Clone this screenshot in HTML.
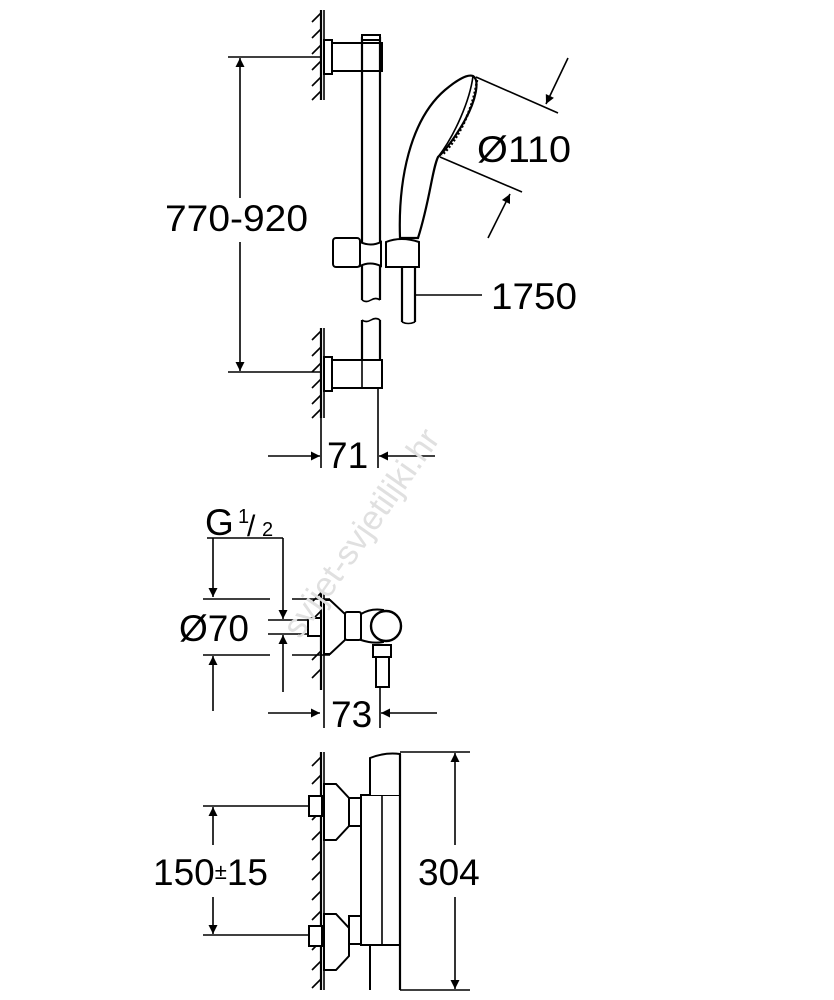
<!DOCTYPE html>
<html><head><meta charset="utf-8"><style>
html,body{margin:0;padding:0;background:#fff}
svg{display:block}
text{font-family:"Liberation Sans",Arial,sans-serif;fill:#000}
</style></head><body>
<svg width="834" height="1000" viewBox="0 0 834 1000" xmlns="http://www.w3.org/2000/svg">
<defs>
<marker id="a" viewBox="0 0 10 10" refX="10" refY="5" markerWidth="18" markerHeight="9" markerUnits="userSpaceOnUse" orient="auto"><path d="M0,0 L10,5 L0,10 z" fill="#000"/></marker>
</defs>
<g stroke="#000" stroke-width="1.6" fill="none">
<!-- TOP wall 1 -->
<line x1="321" y1="10" x2="321" y2="100" stroke-width="2.2"/>
<path d="M312,22 l9,-9 M312,38 l9,-9 M312,54 l9,-9 M312,70 l9,-9 M312,86 l9,-9 M312,100 l9,-9"/>
<line x1="324" y1="10" x2="324" y2="100"/>
<rect x="324" y="40" width="8" height="34" fill="#fff" stroke-width="2"/>
<rect x="332" y="43" width="50" height="28" fill="#fff" stroke-width="2"/>
<!-- bar -->
<path d="M362,37 L362,300 M380,37 L380,300" stroke-width="2.2"/>
<rect x="362" y="35" width="18" height="5" fill="#fff" stroke-width="2"/>
<path d="M362,300 q4,3 9,0 q5,-3 9,0" />
<path d="M362,320 q4,3 9,0 q5,-3 9,0" />
<path d="M362,320 L362,372 M380,320 L380,372" stroke-width="2.2"/>
<!-- wall 2 -->
<line x1="321" y1="328" x2="321" y2="418" stroke-width="2.2"/>
<path d="M312,340 l9,-9 M312,356 l9,-9 M312,372 l9,-9 M312,388 l9,-9 M312,404 l9,-9 M312,418 l9,-9"/>
<line x1="324" y1="328" x2="324" y2="418"/>
<rect x="324" y="357" width="8" height="34" fill="#fff" stroke-width="2"/>
<rect x="332" y="360" width="50" height="28" fill="#fff" stroke-width="2"/>
<line x1="362" y1="360" x2="362" y2="388"/>
<!-- slider -->
<rect x="333" y="238" width="27" height="29" rx="3" fill="#fff" stroke-width="2"/>
<path d="M360,242 q11,5 21,0 L381,266 q-11,-5 -21,0 z" fill="#fff" stroke-width="2"/>
<path d="M386,242 q15,-6 33,0 L419,267 L386,267 z" fill="#fff" stroke-width="2"/>
<!-- hose -->
<path d="M402,267 L402,322 M415,267 L415,322" stroke-width="2.2"/>
<path d="M402,322 q6,3 13,0"/>
<!-- handshower -->
<path d="M400,238 C398,180 410,120 445,90 C458,79 468,74 473,76 C480,80 476,100 465,120 C455,138 444,152 438,157 C432,170 430,200 418,238 Z" fill="#fff" stroke-width="2.2"/>
<path d="M473,76 C470,100 455,135 438,157" />
<path d="M477,80 C474,105 460,138 442,155" stroke-dasharray="2,2" stroke-width="2.5"/>
<!-- Ø110 dims -->
<line x1="476" y1="77" x2="558" y2="113"/>
<line x1="440" y1="157" x2="522" y2="192"/>
<line x1="568" y1="58" x2="546" y2="104" marker-end="url(#a)"/>
<line x1="488" y1="238" x2="510" y2="194" marker-end="url(#a)"/>
<!-- 1750 leader -->
<line x1="416" y1="295" x2="482" y2="295"/>
<!-- 770-920 -->
<line x1="228" y1="57" x2="321" y2="57"/>
<line x1="228" y1="372" x2="321" y2="372"/>
<line x1="240" y1="198" x2="240" y2="58" marker-end="url(#a)"/>
<line x1="240" y1="242" x2="240" y2="371" marker-end="url(#a)"/>
<!-- 71 -->
<line x1="321" y1="418" x2="321" y2="468"/>
<line x1="378" y1="388" x2="378" y2="468"/>
<line x1="268" y1="456" x2="320" y2="456" marker-end="url(#a)"/>
<line x1="435" y1="456" x2="379" y2="456" marker-end="url(#a)"/>

<!-- MIDDLE -->
<line x1="207" y1="538" x2="283" y2="538"/>
<line x1="213" y1="538" x2="213" y2="597" marker-end="url(#a)"/>
<line x1="283" y1="538" x2="283" y2="619" marker-end="url(#a)"/>
<line x1="203" y1="599" x2="270" y2="599"/><line x1="292" y1="599" x2="330" y2="599"/>
<line x1="203" y1="655" x2="270" y2="655"/><line x1="292" y1="655" x2="330" y2="655"/>
<line x1="268" y1="620" x2="310" y2="620"/>
<line x1="268" y1="634" x2="310" y2="634"/>
<line x1="213" y1="711" x2="213" y2="656" marker-end="url(#a)"/>
<line x1="283" y1="692" x2="283" y2="635" marker-end="url(#a)"/>
<line x1="321" y1="592" x2="321" y2="690" stroke-width="2.2"/>
<line x1="324" y1="592" x2="324" y2="728"/>
<path d="M312,602 l9,-9 M312,620 l9,-9 M312,660 l9,-9 M312,678 l9,-9"/>
<rect x="308" y="618" width="13" height="18" fill="#fff" stroke-width="2"/>
<path d="M324,600 L330,600 L345,614 L345,640 L330,654 L324,654 z" fill="#fff" stroke-width="2"/>
<rect x="345" y="612" width="16" height="28" rx="2" fill="#fff" stroke-width="2"/>
<path d="M361,614 q10,-6 22,-4 L383,642 q-10,2 -22,-2 z" fill="#fff" stroke-width="2"/>
<circle cx="386" cy="626" r="15" fill="#fff" stroke-width="2.4"/>
<rect x="373" y="645" width="18" height="12" fill="#fff" stroke-width="2"/>
<rect x="376" y="657" width="13" height="30" fill="#fff" stroke-width="2"/>
<line x1="380" y1="687" x2="380" y2="728"/>
<line x1="268" y1="713" x2="320" y2="713" marker-end="url(#a)"/>
<line x1="437" y1="713" x2="381" y2="713" marker-end="url(#a)"/>

<!-- BOTTOM -->
<line x1="321" y1="752" x2="321" y2="990" stroke-width="2.2"/>
<line x1="324" y1="752" x2="324" y2="990"/>
<path d="M312,766 l9,-9 M312,784 l9,-9 M312,820 l9,-9 M312,840 l9,-9 M312,860 l9,-9 M312,880 l9,-9 M312,900 l9,-9 M312,920 l9,-9 M312,950 l9,-9 M312,970 l9,-9 M312,988 l9,-9"/>
<rect x="309" y="796" width="13" height="20" fill="#fff" stroke-width="2"/>
<rect x="309" y="926" width="13" height="20" fill="#fff" stroke-width="2"/>
<path d="M324,784 L336,784 L349,798 L349,826 L336,840 L324,840 z" fill="#fff" stroke-width="2"/>
<path d="M324,914 L336,914 L349,928 L349,956 L336,970 L324,970 z" fill="#fff" stroke-width="2"/>
<rect x="349" y="798" width="12" height="28" fill="#fff" stroke-width="2"/>
<rect x="349" y="916" width="12" height="28" fill="#fff" stroke-width="2"/>
<rect x="361" y="795" width="39" height="150" fill="#fff" stroke-width="2"/>
<line x1="382" y1="795" x2="382" y2="945"/>
<path d="M370,795 L370,758 q15,-6 30,-4 L400,795" fill="#fff" stroke-width="2"/>
<path d="M370,945 L370,990 M400,945 L400,990" stroke-width="2"/>
<line x1="400" y1="754" x2="400" y2="990" stroke-width="2.2"/>
<line x1="400" y1="752" x2="470" y2="752"/>
<line x1="400" y1="990" x2="470" y2="990"/>
<line x1="455" y1="845" x2="455" y2="753" marker-end="url(#a)"/>
<line x1="455" y1="897" x2="455" y2="989" marker-end="url(#a)"/>
<line x1="203" y1="806" x2="309" y2="806"/>
<line x1="203" y1="935" x2="309" y2="935"/>
<line x1="213" y1="845" x2="213" y2="807" marker-end="url(#a)"/>
<line x1="213" y1="897" x2="213" y2="934" marker-end="url(#a)"/>
</g>
<g font-size="37">
<text x="165" y="231" textLength="143" lengthAdjust="spacingAndGlyphs">770-920</text>
<text x="477" y="162" textLength="94" lengthAdjust="spacingAndGlyphs">Ø110</text>
<text x="491" y="309" textLength="86" lengthAdjust="spacingAndGlyphs">1750</text>
<text x="327" y="468">71</text>
<text x="205" y="535">G</text>
<text x="238" y="523" font-size="20">1</text>
<text x="247" y="536" font-size="30">/</text>
<text x="262" y="536" font-size="20">2</text>
<text x="179" y="641">Ø70</text>
<text x="331" y="727">73</text>
<text x="153" y="885">150<tspan font-size="22" dy="-6">±</tspan><tspan dy="6">15</tspan></text>
<text x="418" y="885">304</text>
</g>
<text x="0" y="0" font-size="34" style="fill:#e0e0e0" transform="translate(300,640) rotate(-55)">svijet-svjetiljki.hr</text>
</svg>
</body></html>
